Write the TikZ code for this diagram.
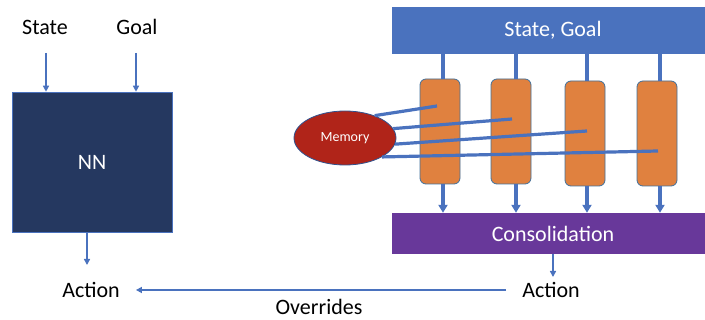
\documentclass[tikz,border=0pt]{standalone}
\usepackage{fontspec}
\setmainfont{Carlito}
\usetikzlibrary{arrows.meta,shapes.geometric}
\definecolor{ablue}{HTML}{4A72BE}
\definecolor{nnfill}{HTML}{253860}
\definecolor{orfill}{HTML}{E0813F}
\definecolor{orline}{HTML}{41719C}
\definecolor{pfill}{HTML}{68389A}
\definecolor{mfill}{HTML}{B02419}
\definecolor{mline}{HTML}{2F528F}
\tikzset{
  big/.style={font=\fontsize{22}{26}\selectfont},
  lbl/.style={big, text=black, inner sep=0pt},
  thinarr/.style={draw=ablue, line width=1.7pt, -{Triangle[width=6pt,length=6pt]}},
  thickarr/.style={draw=ablue, line width=3.2pt, -{Triangle[width=9pt,length=8pt]}},
  thickline/.style={draw=ablue, line width=3.2pt},
  obox/.style={draw=orline, line width=0.8pt, fill=orfill, rounded corners=6pt,
    minimum width=40pt, minimum height=105pt, inner sep=0pt},
  wbox/.style={big, text=white, inner sep=0pt},
}
\begin{document}
\begin{tikzpicture}[x=1pt,y=-1pt]
\useasboundingbox (0,0) rectangle (705,320);
% left part
\node[lbl] (state) at (45,27) {State};
\node[lbl] (goal) at (137,27) {Goal};
\node[draw=ablue, line width=0.6pt, fill=nnfill, minimum width=160pt, minimum height=140pt,
  inner sep=0pt, big, text=white] (nn) at (92,162) {NN};
\node[lbl, inner xsep=16pt] (act1) at (91,290) {Action};
\coordinate (s1) at (46,53);
\coordinate (g1) at (136,53);
\coordinate (n1) at (87,265);
\draw[thinarr] (s1) -- (s1 |- nn.north);
\draw[thinarr] (g1) -- (g1 |- nn.north);
\draw[thinarr] (n1 |- nn.south) -- (n1);
% right part
\node[wbox, fill=ablue, minimum width=322pt, minimum height=47pt] (sg) at (553,30.5) {State, Goal};
\node[wbox, fill=pfill, minimum width=322pt, minimum height=41pt] (cons) at (553,233.5) {Consolidation};
\node[obox] (o1) at (440,131.5) {};
\node[obox] (o2) at (511,131.5) {};
\node[obox] (o3) at (585,133.5) {};
\node[obox] (o4) at (657,133.5) {};
\coordinate (p1) at (443,0);
\coordinate (p2) at (516,0);
\coordinate (p3) at (587,0);
\coordinate (p4) at (660,0);
\foreach \i in {1,2,3,4}{
  \draw[thickline] (p\i |- sg.south) -- (p\i |- o\i.north);
  \draw[thickarr] (p\i |- o\i.south) -- (p\i |- cons.north);
}
\node[ellipse, draw=mline, line width=0.8pt, fill=mfill, minimum width=102pt, minimum height=54pt,
  inner sep=0pt, text=white, font=\fontsize{14}{16}\selectfont] (mem) at (345,138) {Memory};
\coordinate (m1) at (437,106);
\coordinate (m2) at (512,119);
\coordinate (m3) at (587,131);
\coordinate (m4) at (658,151);
\draw[thickline] (mem.37) -- (m1);
\draw[thickline] (mem.11) -- (m2);
\draw[thickline] (mem.-7) -- (m3);
\draw[thickline] (mem.-27) -- (m4);
\node[lbl, inner xsep=16pt] (act2) at (551,290) {Action};
\coordinate (c1) at (553,277);
\draw[thinarr] (c1 |- cons.south) -- (c1);
\draw[thinarr] (act2.west) -- node[lbl, below=8pt, xshift=-2pt] (ovr) {Overrides} (act1.east);
\end{tikzpicture}
\end{document}
